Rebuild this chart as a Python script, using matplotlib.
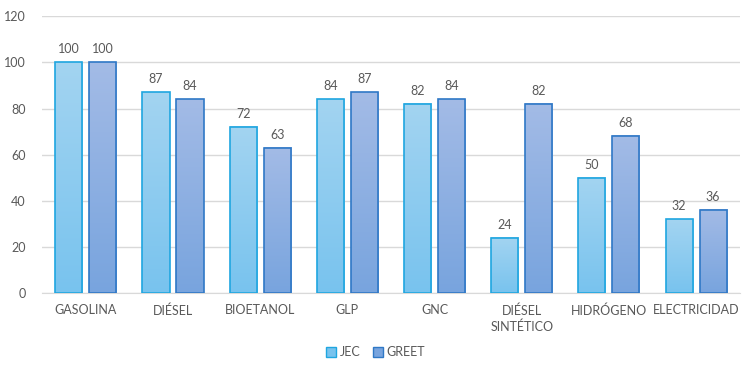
import numpy as np
import matplotlib.pyplot as plt
from matplotlib.colors import LinearSegmentedColormap
from matplotlib.patches import Patch

categories = ['GASOLINA', 'DIÉSEL', 'BIOETANOL', 'GLP', 'GNC', 'DIÉSEL\nSINTÉTICO', 'HIDRÓGENO', 'ELECTRICIDAD']
jec = [100, 87, 72, 84, 82, 24, 50, 32]
greet = [100, 84, 63, 87, 84, 82, 68, 36]
series_names = ['JEC', 'GREET']

plt.rcParams['font.family'] = ['Lato', 'DejaVu Sans']
text_color = '#595959'

fig = plt.figure(figsize=(7.54, 3.77), dpi=100)
ax = fig.add_axes([0.056, 0.222, 0.925, 0.735])

x = np.arange(len(categories))
width = 0.31
offset = 0.195

# gradient fills (top colour, bottom colour, edge)
styles = [('#a3d4f1', '#78c3ee', '#1fa6e0'),
          ('#a3bbe6', '#78a4de', '#2f78c6')]

grad = np.linspace(0, 1, 256).reshape(-1, 1)
for vals, sign, (top, bot, edge) in zip([jec, greet], [-1, 1], styles):
    cmap = LinearSegmentedColormap.from_list('g', [bot, top])
    bars = ax.bar(x + sign * offset, vals, width, color='none',
                  edgecolor=edge, linewidth=1.2, zorder=3)
    for b, v in zip(bars, vals):
        x0 = b.get_x()
        im = ax.imshow(grad, cmap=cmap, aspect='auto', origin='lower',
                       extent=[x0, x0 + b.get_width(), 0, b.get_height()], zorder=2)
        ax.text(b.get_x() + b.get_width() / 2, v + 3, f'{v}', ha='center', va='bottom',
                fontsize=9, color=text_color)

ax.set_xlim(-0.5, len(categories) - 0.5)
ax.set_ylim(0, 120)
ax.set_yticks(range(0, 121, 20))
ax.set_xticks(x)
ax.set_xticklabels(categories, fontsize=9, color=text_color, linespacing=1.3)
ax.tick_params(axis='y', labelsize=9, colors=text_color, length=0, pad=12)
ax.tick_params(axis='x', length=0, pad=8)
ax.grid(axis='y', color='#d9d9d9', linewidth=1, zorder=0)
for s in ['top', 'right', 'left']:
    ax.spines[s].set_visible(False)
ax.spines['bottom'].set_color('#d9d9d9')
ax.set_axisbelow(True)

handles = [Patch(facecolor=s[1], edgecolor=s[2], label=n) for s, n in zip(styles, series_names)]
fig.legend(handles=handles, loc='center', bbox_to_anchor=(0.498, 0.065), ncol=2, frameon=False,
           fontsize=9, labelcolor=text_color, handlelength=0.8, handleheight=0.8,
           handletextpad=0.3, columnspacing=1.0)

fig.savefig('out.png', dpi=100)
